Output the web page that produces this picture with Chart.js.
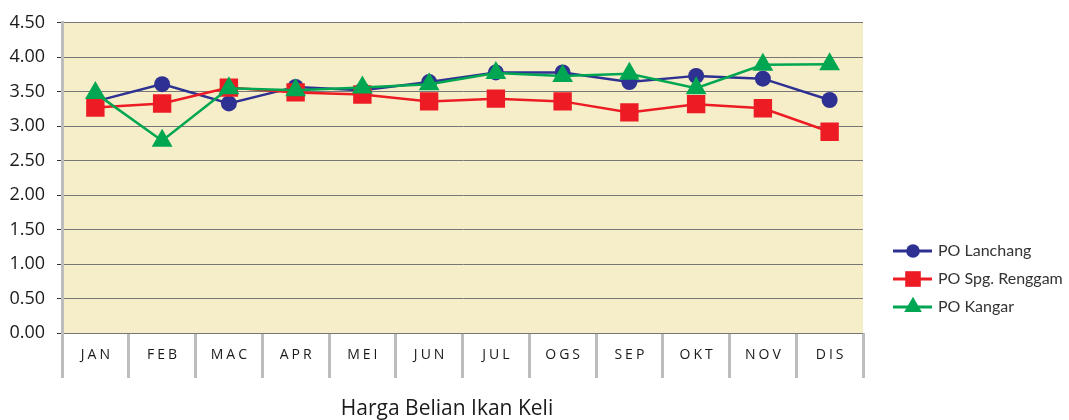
<!DOCTYPE html>
<html>
<head>
<meta charset="utf-8">
<script src="https://cdn.jsdelivr.net/npm/chart.js@4/dist/chart.umd.min.js"></script>
<style>
  html, body { margin: 0; padding: 0; background: #fff; }
  #wrap { width: 1069px; height: 420px; }
</style>
</head>
<body>
<div id="wrap"><canvas id="hargaChart" width="1069" height="420"></canvas></div>
<script>
const months = ['JAN', 'FEB', 'MAC', 'APR', 'MEI', 'JUN', 'JUL', 'OGS', 'SEP', 'OKT', 'NOV', 'DIS'];

// Harga (RM/kg) dibaca dari graf
const lanchang = [3.36, 3.61, 3.33, 3.57, 3.52, 3.64, 3.78, 3.78, 3.64, 3.73, 3.69, 3.38];
const renggam  = [3.27, 3.33, 3.56, 3.49, 3.46, 3.36, 3.40, 3.36, 3.20, 3.32, 3.26, 2.92];
const kangar   = [3.48, 2.79, 3.55, 3.52, 3.56, 3.61, 3.77, 3.73, 3.76, 3.55, 3.89, 3.90];

const yTicks = [0, 0.5, 1, 1.5, 2, 2.5, 3, 3.5, 4, 4.5];

const series = [
  { label: 'PO Lanchang',     data: lanchang, color: '#2E3192', style: 'circle',   radius: 8,  order: 2 },
  { label: 'PO Spg. Renggam', data: renggam,  color: '#ED1C24', style: 'rect',     radius: 13, order: 1 },
  { label: 'PO Kangar',       data: kangar,   color: '#00A651', style: 'triangle', radius: 12, order: 0 }
];

// background, x labels, legend and bottom caption
const decor = {
  id: 'decor',
  beforeDraw(chart) {
    const { ctx, chartArea: a } = chart;
    ctx.save();
    ctx.fillStyle = '#F6EEC8';
    ctx.fillRect(a.left, a.top, a.right - a.left, a.bottom - a.top);
    ctx.restore();
  },
  afterDraw(chart) {
    const { ctx, chartArea: a } = chart;
    const x = chart.scales.x;

    // month labels, spaced out
    ctx.save();
    ctx.font = '14px "Open Sans"';
    ctx.fillStyle = '#1a1a1a';
    ctx.textBaseline = 'middle';
    ctx.textAlign = 'left';
    ctx.letterSpacing = '3px';
    months.forEach((m, i) => {
      const w = ctx.measureText(m).width - 3;
      ctx.fillText(m, x.getPixelForValue(i) - w / 2, a.bottom + 22);
    });
    ctx.restore();

    // legend
    ctx.save();
    const lx = 893, rows = [251, 279, 307];
    series.forEach((s, i) => {
      const y = rows[i];
      ctx.strokeStyle = s.color;
      ctx.fillStyle = s.color;
      ctx.lineWidth = 3;
      ctx.beginPath();
      ctx.moveTo(lx, y);
      ctx.lineTo(lx + 39, y);
      ctx.stroke();
      Chart.helpers.drawPoint(ctx, { pointStyle: s.style, radius: s.radius * 0.85, rotation: 0, borderWidth: 0 }, lx + 20, y);
      ctx.fillStyle = '#333';
      ctx.font = '16px Lato';
      ctx.textBaseline = 'middle';
      ctx.fillText(s.label, lx + 45, y);
    });
    ctx.restore();

    // caption
    ctx.save();
    ctx.font = '21px "Open Sans"';
    ctx.fillStyle = '#1a1a1a';
    ctx.textAlign = 'center';
    ctx.textBaseline = 'middle';
    ctx.fillText('Harga Belian Ikan Keli', 447, 409);
    ctx.restore();
  }
};

new Chart(document.getElementById('hargaChart'), {
  type: 'line',
  data: {
    labels: months,
    datasets: series.map(s => ({
      label: s.label,
      data: s.data,
      order: s.order,
      borderColor: s.color,
      backgroundColor: s.color,
      borderWidth: 2.5,
      pointStyle: s.style,
      pointRadius: s.radius,
      pointHoverRadius: s.radius,
      pointBorderWidth: 0,
      tension: 0,
      fill: false
    }))
  },
  options: {
    responsive: false,
    animation: false,
    layout: { padding: { top: 17, right: 206, bottom: 42, left: 0 } },
    plugins: {
      legend: { display: false },
      title: { display: false },
      tooltip: { enabled: false }
    },
    scales: {
      x: {
        offset: true,
        grid: {
          offset: true,
          drawOnChartArea: false,
          drawTicks: true,
          tickLength: 45,
          color: '#BDBDBD',
          lineWidth: 3
        },
        border: { display: false },
        ticks: { display: false }
      },
      y: {
        min: 0,
        max: 4.5,
        afterBuildTicks: axis => { axis.ticks = yTicks.map(v => ({ value: v })); },
        afterFit: axis => { axis.width = 62; },
        ticks: {
          callback: v => v.toFixed(2),
          font: { family: 'Open Sans', size: 18 },
          color: '#1a1a1a',
          padding: 12
        },
        grid: {
          color: '#777',
          lineWidth: 1,
          tickLength: 5,
          tickColor: '#333'
        },
        border: { display: true, color: '#BDBDBD', width: 3 }
      }
    }
  },
  plugins: [decor]
});
</script>
</body>
</html>
